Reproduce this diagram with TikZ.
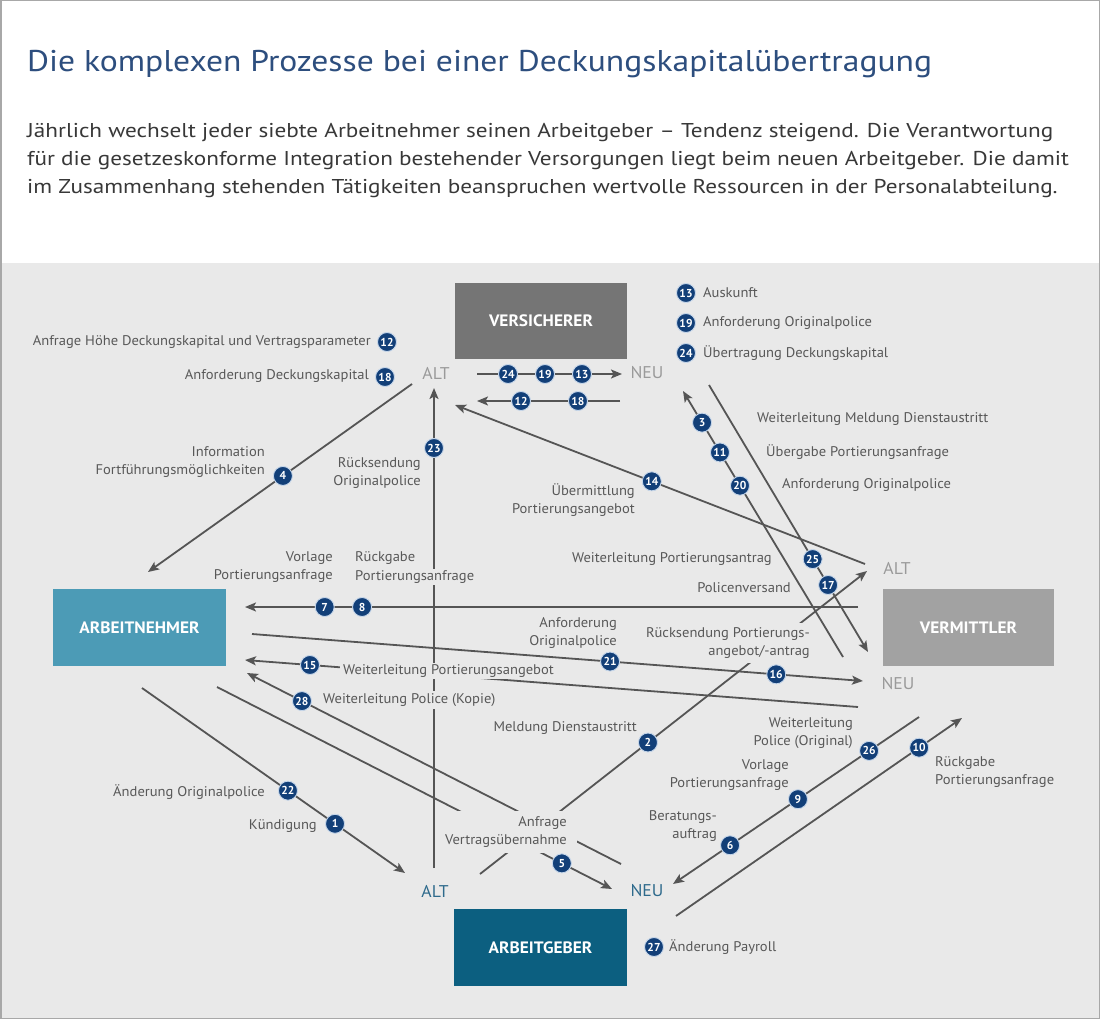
\documentclass[tikz,border=0pt]{standalone}
\usepackage{fontspec}
\setmainfont{PT Sans}
\newfontfamily\titlefont[FakeStretch=1.12]{PT Sans}
\newfontfamily\bodyfont[FakeStretch=1.16]{PT Sans}
\newfontfamily\lblfont[FakeStretch=1.04]{PT Sans}
\newfontfamily\boxfont[FakeStretch=1.05]{PT Sans}
\usetikzlibrary{arrows.meta,calc}
\definecolor{bg}{HTML}{E9E9E9}
\definecolor{framec}{HTML}{A8A8A8}
\definecolor{titlec}{HTML}{2D4E7E}
\definecolor{bodyc}{HTML}{383838}
\definecolor{lblc}{HTML}{585858}
\definecolor{linec}{HTML}{555555}
\definecolor{numc}{HTML}{123F78}
\definecolor{ringc}{HTML}{C5D6EA}
\definecolor{altc}{HTML}{9A9A9A}
\definecolor{agaltc}{HTML}{2E6A8C}
\definecolor{versc}{HTML}{757575}
\definecolor{anc}{HTML}{4C9BB6}
\definecolor{vmc}{HTML}{A2A2A2}
\definecolor{agc}{HTML}{0C5F80}
\begin{document}
\begin{tikzpicture}[x=1pt,y=-1pt,
  lbl/.style={text=lblc, font=\lblfont\fontsize{14}{18}\selectfont, inner sep=1pt},
  masked/.style={fill=bg, inner xsep=3pt, inner ysep=2pt},
  num/.style={circle, fill=numc, draw=ringc, line width=0.9pt, text=white,
    font=\fontsize{11.5}{11.5}\selectfont\bfseries, inner sep=0pt, minimum size=19pt},
  ln/.style={draw=linec, line width=1.8pt},
  arr/.style={ln, -{Stealth[length=11pt,width=9pt,inset=2.5pt]}},
  party/.style={minimum width=172pt, minimum height=76pt, text=white,
    font=\boxfont\fontsize{16.5}{18}\selectfont\bfseries, inner sep=0pt},
  side/.style={font=\lblfont\fontsize{17}{18}\selectfont, text=altc, inner sep=0pt},
  agside/.style={side, text=agaltc},
  bodytext/.style={anchor=base west, inner sep=0pt, text=bodyc, font=\bodyfont\fontsize{20}{22}\selectfont}
]
\useasboundingbox (0,0) rectangle (1100,1019);
\fill[white] (0,0) rectangle (1100,263);
\fill[bg] (0,263) rectangle (1100,1019);
\draw[framec, line width=1.5pt] (0.75,0.75) rectangle (1099.25,1018.25);

% heading
\node[anchor=base west, inner sep=0pt, text=titlec, font=\titlefont\fontsize{30}{34}\selectfont] (title) at (27,72)
  {Die komplexen Prozesse bei einer Deckungskapitalübertragung};
\node[bodytext] (body1) at (27,138) {Jährlich wechselt jeder siebte Arbeitnehmer seinen Arbeitgeber – Tendenz steigend. Die Verantwortung};
\node[bodytext] (body2) at (27,166) {für die gesetzeskonforme Integration bestehender Versorgungen liegt beim neuen Arbeitgeber. Die damit};
\node[bodytext] (body3) at (27,194) {im Zusammenhang stehenden Tätigkeiten beanspruchen wertvolle Ressourcen in der Personalabteilung.};

% parties
\node[party, fill=versc] (vers) at (541,320.5) {VERSICHERER};
\node[party, fill=anc, minimum width=173pt, minimum height=77pt] (an) at (139.5,627.5) {ARBEITNEHMER};
\node[party, fill=vmc, minimum width=171pt, minimum height=77pt] (vm) at (968.5,627.5) {VERMITTLER};
\node[party, fill=agc, minimum width=173pt, minimum height=77pt] (ag) at (540.5,947.5) {ARBEITGEBER};

\node[side] (versalt) at (436,373) {ALT};
\node[side] (versneu) at (647,373) {NEU};
\node[side] (vmalt) at (897,568) {ALT};
\node[side] (vmneu) at (898,684) {NEU};
\node[agside] (agalt) at (435,891) {ALT};
\node[agside] (agneu) at (647,891) {NEU};

% connector end points
\coordinate (v1a) at (477,374); \coordinate (v1b) at (622,374);
\coordinate (v2a) at (620,401); \coordinate (v2b) at (477,401);
\coordinate (l4a) at (412,384); \coordinate (l4b) at (148,572);
\coordinate (l23a) at (434,868); \coordinate (l23b) at (434,388);
\coordinate (l7a) at (858,607); \coordinate (l7b) at (245,607);
\coordinate (l21a) at (252,634); \coordinate (l21b) at (863,681);
\coordinate (l15a) at (858,707); \coordinate (l15b) at (245,660);
\coordinate (l28a) at (621,864); \coordinate (l28b) at (247,673);
\coordinate (l5a) at (217,687); \coordinate (l5b) at (612,889);
\coordinate (l1a) at (142,688); \coordinate (l1b) at (405,873);
\coordinate (l2a) at (480,874); \coordinate (l2b) at (867,571);
\coordinate (l14a) at (865,564); \coordinate (l14b) at (455,405);
\coordinate (l3a) at (843,657); \coordinate (l3b) at (683,391);
\coordinate (l25a) at (709,385); \coordinate (l25b) at (868,652);
\coordinate (l26a) at (919,717); \coordinate (l26b) at (673,884);
\coordinate (l10a) at (676,916); \coordinate (l10b) at (962,718);

% connectors
\draw[arr] (v1a) -- (v1b);
\draw[arr] (v2a) -- (v2b);
\draw[arr] (l4a) -- (l4b);
\draw[arr] (l23a) -- (l23b);
\draw[arr] (l7a) -- (l7b);
\draw[arr] (l21a) -- (l21b);
\draw[arr] (l15a) -- (l15b);
\draw[arr] (l28a) -- (l28b);
\draw[arr] (l5a) -- (l5b);
\draw[arr] (l1a) -- (l1b);
\draw[arr] (l2a) -- (l2b);
\draw[arr] (l14a) -- (l14b);
\draw[arr] (l3a) -- (l3b);
\draw[arr] (l25a) -- (l25b);
\draw[arr] (l26a) -- (l26b);
\draw[arr] (l10a) -- (l10b);

% labels
\node[lbl, anchor=east] (t12) at (372,342) {Anfrage Höhe Deckungskapital und Vertragsparameter};
\node[lbl, anchor=east] (t18) at (370,376) {Anforderung Deckungskapital};
\node[lbl, anchor=east, align=right] (t4) at (266,462) {Information\\Fortführungsmöglichkeiten};
\node[lbl, anchor=east, align=right] (t23) at (422,473) {Rücksendung\\Originalpolice};
\node[lbl, anchor=west] (t13) at (702,293) {Auskunft};
\node[lbl, anchor=west] (t19) at (702,323) {Anforderung Originalpolice};
\node[lbl, anchor=west] (t24) at (702,353) {Übertragung Deckungskapital};
\node[lbl, anchor=west] (t3) at (756,419) {Weiterleitung Meldung Dienstaustritt};
\node[lbl, anchor=west] (t11) at (765,452) {Übergabe Portierungsanfrage};
\node[lbl, anchor=west] (t20) at (781,485) {Anforderung Originalpolice};
\node[lbl, anchor=east, align=right] (t14) at (636,500) {Übermittlung\\Portierungsangebot};
\node[lbl, anchor=east] (t25) at (773,559) {Weiterleitung Portierungsantrag};
\node[lbl, anchor=east] (t17) at (792,588) {Policenversand};
\node[lbl, anchor=east, align=right] (t7) at (334,567) {Vorlage\\Portierungsanfrage};
\node[lbl, anchor=west] (t8a) at (354,558) {Rückgabe};
\node[lbl, masked, anchor=west] (t8b) at (352,577) {Portierungsanfrage};
\node[lbl, anchor=east, align=right] (t21) at (618,633) {Anforderung\\Originalpolice};
\node[lbl, masked, inner ysep=5pt, anchor=east, align=right] (t16) at (813,643) {Rücksendung Portierungs-\\angebot/-antrag};
\node[lbl, masked, anchor=west] (t15) at (340,671) {Weiterleitung Portierungsangebot};
\node[lbl, masked, anchor=west] (t28) at (320,700) {Weiterleitung Police (Kopie)};
\node[lbl, anchor=east] (t2) at (638,728) {Meldung Dienstaustritt};
\node[lbl, fill=bg, inner xsep=10pt, inner ysep=6pt, anchor=east, align=right] (t5) at (577,832) {Anfrage\\Vertragsübernahme};
\node[lbl, anchor=east] (t22) at (266,792) {Änderung Originalpolice};
\node[lbl, anchor=east] (t1) at (318,826) {Kündigung};
\node[lbl, anchor=east, align=right] (t26) at (854,733) {Weiterleitung\\Police (Original)};
\node[lbl, anchor=east, align=right] (t9) at (790,775) {Vorlage\\Portierungsanfrage};
\node[lbl, anchor=east, align=right] (t6) at (718,826) {Beratungs-\\auftrag};
\node[lbl, anchor=west, align=left] (t10) at (934,772) {Rückgabe\\Portierungsanfrage};
\node[lbl, anchor=west] (t27) at (668,947) {Änderung Payroll};

% numbered markers
\node[num] (n24) at ($(v1a)!0.214!(v1b)$) {24};
\node[num] (n19) at ($(v1a)!0.469!(v1b)$) {19};
\node[num] (n13) at ($(v1a)!0.724!(v1b)$) {13};
\node[num] (n12) at ($(v2a)!0.692!(v2b)$) {12};
\node[num] (n18) at ($(v2a)!0.294!(v2b)$) {18};
\node[num] (n4) at ($(l4a)!0.489!(l4b)$) {4};
\node[num] (n23) at ($(l23a)!0.875!(l23b)$) {23};
\node[num] (n7) at ($(l7a)!0.870!(l7b)$) {7};
\node[num] (n8) at ($(l7a)!0.809!(l7b)$) {8};
\node[num] (n21) at ($(l21a)!0.586!(l21b)$) {21};
\node[num] (n16) at ($(l21a)!0.858!(l21b)$) {16};
\node[num] (n15) at ($(l15a)!0.894!(l15b)$) {15};
\node[num] (n28) at ($(l28a)!0.853!(l28b)$) {28};
\node[num] (n5) at ($(l5a)!0.873!(l5b)$) {5};
\node[num] (n22) at ($(l1a)!0.555!(l1b)$) {22};
\node[num] (n1) at ($(l1a)!0.734!(l1b)$) {1};
\node[num] (n2) at ($(l2a)!0.434!(l2b)$) {2};
\node[num] (n14) at ($(l14a)!0.520!(l14b)$) {14};
\node[num] (n3) at ($(l3a)!0.881!(l3b)$) {3};
\node[num] (n11) at ($(l3a)!0.769!(l3b)$) {11};
\node[num] (n20) at ($(l3a)!0.644!(l3b)$) {20};
\node[num] (n25) at ($(l25a)!0.652!(l25b)$) {25};
\node[num] (n17) at ($(l25a)!0.749!(l25b)$) {17};
\node[num] (n26) at ($(l26a)!0.203!(l26b)$) {26};
\node[num] (n9) at ($(l26a)!0.492!(l26b)$) {9};
\node[num] (n6) at ($(l26a)!0.768!(l26b)$) {6};
\node[num] (n10) at ($(l10a)!0.850!(l10b)$) {10};
\node[num] (m12) at (387,342) {12};
\node[num] (m18) at (385,377) {18};
\node[num] (m13) at (686,293) {13};
\node[num] (m19) at (686,323) {19};
\node[num] (m24) at (686,353) {24};
\node[num] (m27) at (654,947) {27};
\end{tikzpicture}
\end{document}
